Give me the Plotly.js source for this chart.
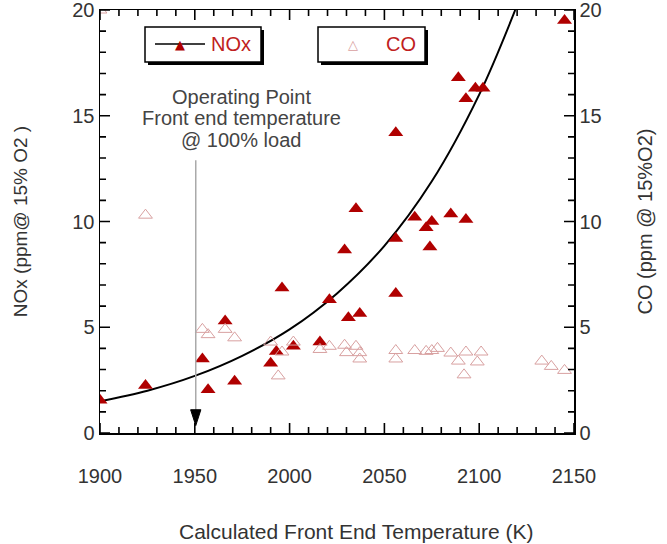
<!DOCTYPE html>
<html><head><meta charset="utf-8">
<script src="https://cdn.plot.ly/plotly-3.0.1.min.js"></script>
<style>html,body{margin:0;padding:0;background:#fff}#chart{width:667px;height:544px}</style>
</head><body><div id="chart"></div>
<script>
// NOx measurements (K, ppm @15% O2)
const noxTemp = [1900,1924,1954,1957,1966,1971,1990,1993,1996,2002,2016,2021,2029,2031,2035,2037,2056,2056,2056,2066,2072,2074,2075,2085,2089,2093,2093,2098,2102,2145];
const noxVal  = [1.55,2.25,3.5,2.05,5.3,2.45,3.3,3.85,6.85,4.1,4.3,6.3,8.65,5.45,10.6,5.65,6.6,9.2,14.2,10.2,9.7,8.8,10.0,10.35,16.8,15.8,10.1,16.3,16.3,19.5];
// CO measurements
const coTemp = [1900,1924,1954,1957,1966,1971,1990,1994,1996,2002,2016,2021,2029,2030,2035,2037,2037,2056,2056,2066,2072,2075,2078,2085,2089,2092,2093,2099,2101,2133,2138,2145];
const coVal  = [20,10.3,4.9,4.65,4.9,4.5,4.3,2.7,3.83,4.3,3.95,4.1,4.15,3.8,4.1,3.8,3.5,3.9,3.5,3.9,3.86,3.9,4.0,3.78,3.4,2.75,3.83,3.36,3.83,3.4,3.15,2.96];
// fitted NOx curve
const fitTemp = [1900,1925,1950,1975,2000,2025,2050,2075,2100,2119];
const fitVal  = [1.5,2.0,2.7,3.65,4.9,6.6,8.85,11.9,16.0,20.0];
// tick labels
const xTicks = [1900,1950,2000,2050,2100,2150];
const yTicks = [0,5,10,15,20];
// texts
const noteLines = ['Operating Point','Front end temperature','@ 100% load'];
const xTitle = 'Calculated Front End Temperature (K)';

const red = '#b00000';
const pink = '#d8a0a0';
const txt = '#333';
const FF = 'Liberation Sans, Arial, sans-serif';

const X0 = 1900, X1 = 2150, Y0 = 0, Y1 = 20;
const W = 474, H = 423;
const kPerPx = (X1 - X0) / W, vPerPx = (Y1 - Y0) / H;

const traces = [
  {x: fitTemp, y: fitVal, mode:'lines', line:{color:'#000', width:2, shape:'spline'}, hoverinfo:'skip'},
  {x: coTemp, y: coVal, yaxis:'y2', mode:'markers', marker:{symbol:'triangle-up-open', size:12, color:pink, line:{width:1, color:pink}}},
  {x: noxTemp, y: noxVal, mode:'markers', marker:{symbol:'triangle-up', size:13, color:red}}
];

const px = v => (v-100)/W, py = v => (433-v)/H;

const shapes = [
  {type:'rect', xref:'paper', yref:'paper', x0:px(148), x1:px(264), y0:py(65), y1:py(30), fillcolor:'#000', line:{width:0}},
  {type:'rect', xref:'paper', yref:'paper', x0:px(145), x1:px(261), y0:py(62), y1:py(27), fillcolor:'#fff', line:{color:'#000', width:1.5}},
  {type:'rect', xref:'paper', yref:'paper', x0:px(321), x1:px(428), y0:py(65), y1:py(30), fillcolor:'#000', line:{width:0}},
  {type:'rect', xref:'paper', yref:'paper', x0:px(318), x1:px(425), y0:py(62), y1:py(27), fillcolor:'#fff', line:{color:'#000', width:1.5}},
  {type:'line', xref:'paper', yref:'paper', x0:px(155), x1:px(205), y0:py(44), y1:py(44), line:{color:'#000', width:1.5}},
  {type:'line', xref:'x', yref:'y', x0:1950.5, x1:1950.5, y0:12.9, y1:1.0, line:{color:'#aaa', width:1.5}},
  {type:'path', xref:'x', yref:'y', path:'M 1947.8,1.1 L 1953.2,1.1 L 1950.5,0.35 Z', fillcolor:'#000', line:{color:'#000', width:1}}
];

// inside tick marks built from the axis scale, drawn as paper-referenced path shapes
const frac = (t) => (t - X0) / (X1 - X0);
let tickPath = '';
for (let t = X0; t <= X1; t += 10) {
  const len = (t % 50 === 0 ? 10 : 6) / H;
  const f = frac(t);
  tickPath += `M${f},0 L${f},${len} M${f},1 L${f},${1-len} `;
}
for (let v = Y0; v <= Y1; v += 1) {
  const len = (v % 5 === 0 ? 10 : 6) / W;
  const f = (v - Y0) / (Y1 - Y0);
  tickPath += `M0,${f} L${len},${f} M1,${f} L${1-len},${f} `;
}
shapes.push({type:'path', xref:'paper', yref:'paper', path:tickPath.trim(), line:{color:'#000', width:1.6}, layer:'above'});

const annotations = [
  {xref:'paper', yref:'paper', x:px(180), y:py(44), xanchor:'center', yanchor:'middle', text:'▲', showarrow:false, font:{size:13, color:red, family:'DejaVu Sans'}},
  {xref:'paper', yref:'paper', x:px(209), y:py(44), xanchor:'left', yanchor:'middle', text:'NOx', showarrow:false, font:{size:20, color:'#c02020', family:FF}},
  {xref:'paper', yref:'paper', x:px(353), y:py(44), xanchor:'center', yanchor:'middle', text:'△', showarrow:false, font:{size:13, color:pink, family:'DejaVu Sans'}},
  {xref:'paper', yref:'paper', x:px(384), y:py(44), xanchor:'left', yanchor:'middle', text:'CO', showarrow:false, font:{size:20, color:'#c02020', family:FF}},
  {xref:'paper', yref:'paper', x:px(356), y:py(531), xanchor:'center', yanchor:'middle', text:xTitle, showarrow:false, font:{size:21, color:txt, family:FF}}
];
const noteY = [97, 118.5, 140];
noteLines.forEach((t,i) => annotations.push({xref:'paper', yref:'paper', x:px(241), y:py(noteY[i]), xanchor:'center', yanchor:'middle', text:t, showarrow:false, font:{size:20, color:'#444', family:FF}}));

function axisBase(){ return {
  showgrid:false, zeroline:false, showline:true, linecolor:'#000', linewidth:1.5,
  ticks:'', ticklabeloverflow:'allow',
  tickfont:{size:20, color:txt, family:FF}
};}

const layout = {
  width:667, height:544,
  margin:{l:100, r:93, t:10, b:111},
  showlegend:false,
  xaxis: Object.assign(axisBase(), {
    range:[X0,X1], tickmode:'array', tickvals:xTicks, ticktext:xTicks.map(String), mirror:true,
    ticklabelstandoff:24
  }),
  yaxis: Object.assign(axisBase(), {
    range:[Y0,Y1], tickmode:'array', tickvals:yTicks, ticktext:yTicks.map(String), mirror:true,
    title:{text:'NOx (ppm@ 15% O2 )', font:{size:19, color:txt, family:FF}, standoff:39}
  }),
  yaxis2: Object.assign(axisBase(), {
    range:[Y0,Y1], tickmode:'array', tickvals:yTicks, ticktext:yTicks.map(String), overlaying:'y', side:'right',
    title:{text:'CO (ppm @ 15%O2)', font:{size:20, color:txt, family:FF}, standoff:37}
  }),
  shapes, annotations
};

Plotly.newPlot('chart', traces, layout, {displayModeBar:false, staticPlot:true});
</script></body></html>
